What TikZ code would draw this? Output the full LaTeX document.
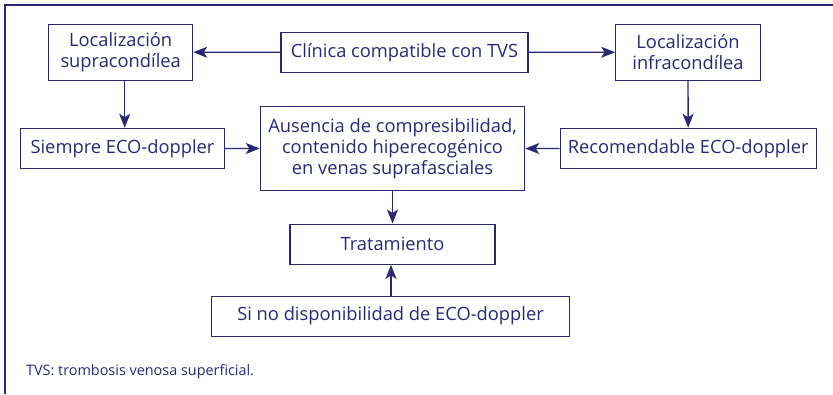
\documentclass[tikz,border=0pt]{standalone}
\usepackage{fontspec}
\setmainfont{Open Sans}
\usetikzlibrary{arrows.meta}
\definecolor{navy}{RGB}{40,40,118}

\begin{document}
\begin{tikzpicture}[x=1pt,y=-1pt,
    caja/.style={draw=navy, line width=1.1pt, text=navy, inner sep=0pt, align=center,
      font=\fontsize{18.3}{21}\selectfont},
    flecha/.style={draw=navy, line width=1.3pt, -{Stealth[length=14pt,width=11pt,inset=3.5pt]}}]
    \useasboundingbox (0,0) rectangle (833,394);
    \draw[navy, line width=2.2pt] (5,394) -- (5,5) -- (833,5);

    \node[caja, minimum width=144pt, minimum height=55.7pt] (supra) at (120.7,52.2) {Localización\\supracondílea};
    \node[caja, minimum width=247pt, minimum height=40.4pt] (clinica) at (404.5,52.4) {Clínica compatible con TVS};
    \node[caja, minimum width=144.6pt, minimum height=55.7pt] (infra) at (688,52.2) {Localización\\infracondílea};
    \node[caja, minimum width=203.6pt, minimum height=40pt] (siempre) at (122.5,148.3) {Siempre ECO-doppler};
    \node[caja, minimum width=264.4pt, minimum height=84pt] (ausencia) at (392.5,148.7) {Ausencia de compresibilidad,\\contenido hiperecogénico\\en venas suprafasciales};
    \node[caja, minimum width=256.3pt, minimum height=40pt] (recom) at (688.2,148.3) {Recomendable ECO-doppler};
    \node[caja, minimum width=205pt, minimum height=40.3pt] (trat) at (392.5,244.2) {Tratamiento};
    \node[caja, minimum width=357.6pt, minimum height=40.3pt] (sino) at (390.5,316.2) {Si no disponibilidad de ECO-doppler};

    \node[anchor=base west, text=navy, inner sep=0pt, font=\fontsize{14.4}{16}\selectfont] (nota) at (26,375.5) {TVS: trombosis venosa superficial.};

    \draw[flecha] (clinica) -- (supra);
    \draw[flecha] (clinica) -- (infra);
    \draw[flecha] ([xshift=4pt]supra.south) -- ([xshift=2.2pt]siempre.north);
    \draw[flecha] (infra) -- (recom);
    \draw[flecha] (siempre) -- (ausencia);
    \draw[flecha] (recom) -- (ausencia);
    \draw[flecha] (ausencia) -- (trat);
    \draw[flecha] ([xshift=0.5pt]sino.north) -- ([xshift=-1.5pt]trat.south);
\end{tikzpicture}
\end{document}
